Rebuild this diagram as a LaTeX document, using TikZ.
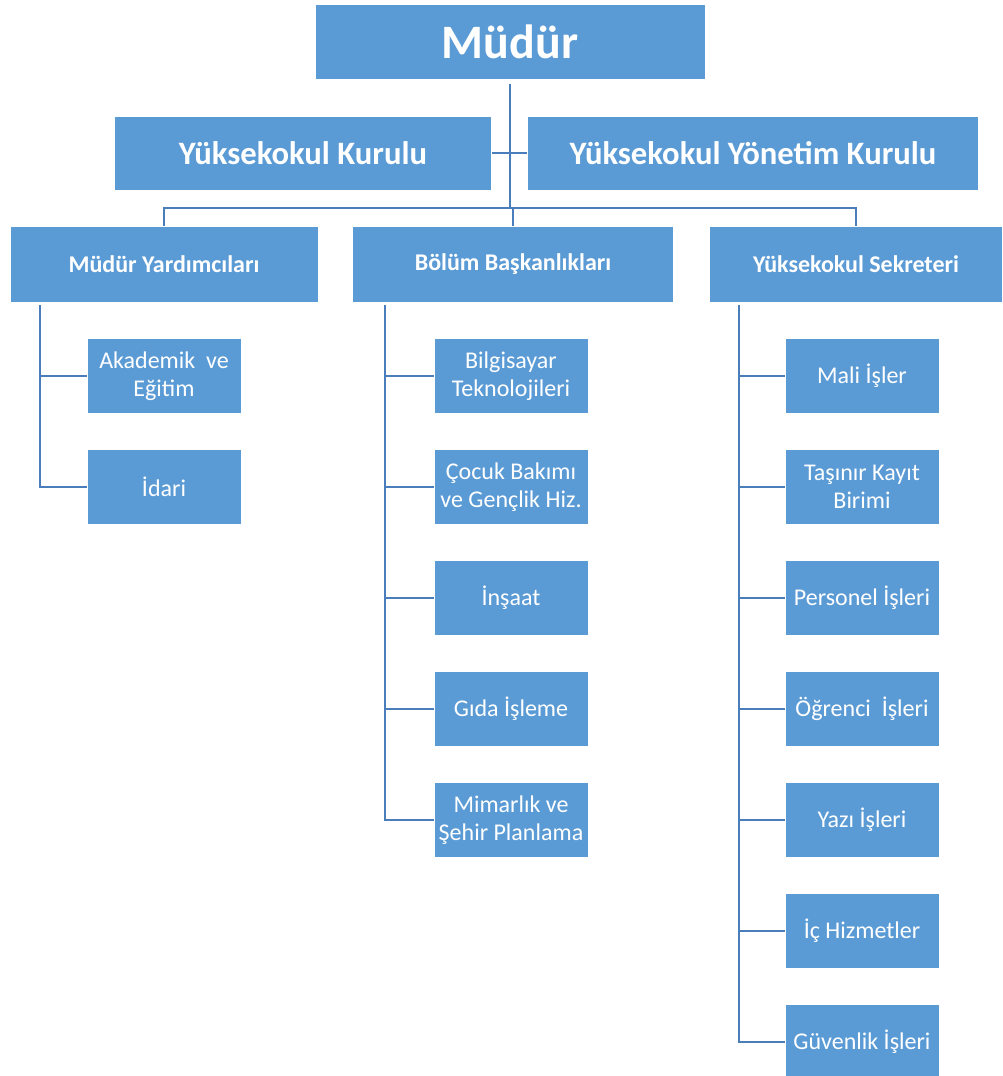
\documentclass[tikz,border=0pt]{standalone}
\usepackage{fontspec}
\setmainfont{Carlito}
\definecolor{myBox}{HTML}{5B9BD5}
\definecolor{myLine}{HTML}{4A7EBB}

\begin{document}
\begin{tikzpicture}[x=0.75pt, y=-0.75pt, line width=2.2pt, myLine]

  \tikzstyle{B}=[rectangle,fill=myBox,draw=white,line width=0.4pt,text=white,inner sep=2pt,align=center]
  \tikzstyle{T}=[B,font=\fontsize{36}{40}\selectfont\bfseries,minimum width=292.5pt,minimum height=56.25pt]
  \tikzstyle{K}=[B,font=\fontsize{24.5}{28}\selectfont\bfseries,minimum height=55.5pt]
  \tikzstyle{H}=[B,font=\fontsize{18}{21}\selectfont\bfseries,minimum height=57pt]
  \tikzstyle{S}=[B,font=\fontsize{18}{21}\selectfont,minimum width=115.5pt,minimum height=56.25pt]

  \useasboundingbox (0,0) rectangle (1003,1076);

  \node[T] at (510,42) (mudur) {Müdür};
  \node[K,minimum width=282.75pt] at (303,153) (kurulu) {Yüksekokul Kurulu};
  \node[K,minimum width=338.25pt] at (753,153) (yonetim) {Yüksekokul Yönetim Kurulu};

  \node[H,minimum width=231pt] at (164,264) (yardimci) {Müdür Yardımcıları};
  \node[H,minimum width=240.75pt] at (513,264) (bolum) {Bölüm Başkanlıkları};
  \node[H,minimum width=219.75pt] at (856,264) (sekreter) {Yüksekokul Sekreteri};

  % mudur yardimcilari
  \node[S] at (164,376) (akademik) {Akademik\ \ ve\\Eğitim};
  \node[S] at (164,487) (idari) {İdari};

  % bolumler
  \node[S] at (511,376) (bilgisayar) {Bilgisayar\\Teknolojileri};
  \node[S] at (511,487) (cocuk) {Çocuk Bakımı\\ve Gençlik Hiz.};
  \node[S] at (511,598) (insaat) {İnşaat};
  \node[S] at (511,709) (gida) {Gıda İşleme};
  \node[S] at (511,820) (mimarlik) {Mimarlık ve\\Şehir Planlama};

  % sekreterlik
  \node[S] at (862,376) (mali) {Mali İşler};
  \node[S] at (862,487) (tasinir) {Taşınır Kayıt\\Birimi};
  \node[S] at (862,598) (personel) {Personel İşleri};
  \node[S] at (862,709) (ogrenci) {Öğrenci\ \ İşleri};
  \node[S] at (862,820) (yazi) {Yazı İşleri};
  \node[S] at (862,931) (ic) {İç Hizmetler};
  \node[S] at (862,1042) (guvenlik) {Güvenlik İşleri};

  \coordinate (bar) at (510,208);
  \coordinate (trunkA) at (40,305);
  \coordinate (trunkB) at (385,305);
  \coordinate (trunkC) at (739,305);

  \draw [shorten <=3pt] (mudur.south) -- (bar);
  \draw [] (kurulu.east) -- (yonetim.west);
  \draw [] (yardimci.north) |- (bar);
  \draw [] (sekreter.north) |- (bar);
  \draw [] (bolum.north) -- (bolum.north |- bar);

  \draw [] (trunkA) |- (akademik.west);
  \draw [] (trunkA) |- (idari.west);

  \draw [] (trunkB) |- (bilgisayar.west);
  \draw [] (trunkB) |- (cocuk.west);
  \draw [] (trunkB) |- (insaat.west);
  \draw [] (trunkB) |- (gida.west);
  \draw [] (trunkB) |- (mimarlik.west);

  \draw [] (trunkC) |- (mali.west);
  \draw [] (trunkC) |- (tasinir.west);
  \draw [] (trunkC) |- (personel.west);
  \draw [] (trunkC) |- (ogrenci.west);
  \draw [] (trunkC) |- (yazi.west);
  \draw [] (trunkC) |- (ic.west);
  \draw [] (trunkC) |- (guvenlik.west);

\end{tikzpicture}
\end{document}
